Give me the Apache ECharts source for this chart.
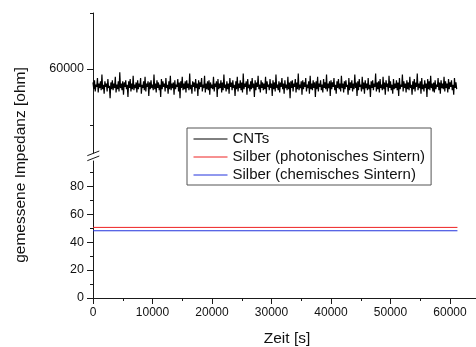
<!DOCTYPE html>
<html>
<head>
<meta charset="utf-8">
<script src="https://cdn.jsdelivr.net/npm/echarts@6/dist/echarts.min.js"></script>
<style>
html,body{margin:0;padding:0;background:#fff;}
#chart{width:476px;height:347px;}
</style>
</head>
<body>
<div id="chart"></div>
<script>
// ---- data ----
var seriesNames = ['CNTs', 'Silber (photonisches Sintern)', 'Silber (chemisches Sintern)'];
var cntStart = 0;
var cntStep = 125; // sampling interval in s
var cntValues = [
  58800,58200,59000,58000,58600,58400,59200,57900,58700,58300,58900,58100,59500,58200,
  58600,57800,58900,58400,58700,58000,59100,58300,58500,57400,58800,58200,59000,58100,
  58700,58300,59300,57900,58600,58200,58900,58000,59700,58300,58700,58100,58900,57700,
  58800,58400,59000,58200,58600,57500,58900,58300,59100,58000,58700,58200,59400,58100,
  58600,58300,58800,57900,59000,58200,58700,58400,59200,57800,58600,58300,58900,58100,
  59300,58000,58700,58400,58900,57600,58800,58200,59000,58300,58600,58100,59500,58200,
  58700,57900,59000,58300,58800,58100,58600,57500,59100,58200,58900,58400,58700,58000,
  59200,58300,58600,57800,58900,58200,59400,58100,58700,58300,58800,57700,59000,58200,
  58600,58400,59100,58000,58800,57400,58900,58300,59300,58100,58700,58200,58900,57900,
  59000,58300,58700,58100,59600,58200,58600,57800,58900,58400,58800,58000,59100,58300,
  58700,57600,59000,58200,58800,58400,59200,58000,58600,58300,59400,57900,58700,58200,
  58900,58100,59000,57700,58800,58300,58600,58200,59300,58000,58700,58400,58900,57500,
  59100,58200,58700,58300,59000,57900,58800,58100,59500,58300,58600,58000,58900,58200,
  58700,57800,59200,58400,58800,58100,59000,58300,58600,57600,58900,58200,59300,58000,
  58700,58300,59000,58100,58800,57900,59600,58200,58700,58400,58900,57700,59100,58300,
  58600,58000,58900,58200,59200,58300,58700,57500,59000,58100,58800,58400,59400,58200,
  58600,57900,59000,58300,58800,58100,58700,58200,59300,57800,58900,58400,58600,58100,
  59100,58300,58700,57600,59000,58200,58800,58000,59500,58300,58600,58100,58900,57900,
  58800,58400,59200,58200,58700,57800,59000,58300,58600,58100,59300,58200,58800,57400,
  58900,58300,59000,58000,58700,58400,59100,57900,58800,58200,59600,58100,58600,58300,
  58900,57700,59000,58200,58800,58400,59200,58000,58600,58300,58900,57800,59400,58200,
  58700,58100,59000,58300,58800,57500,58900,58200,59300,58000,58700,58400,59000,58100,
  58600,57900,59100,58300,58800,58200,59500,58000,58700,58300,58900,57600,59000,58200,
  58800,58400,59200,58100,58600,57800,58900,58300,59100,58200,58700,58000,59400,58300,
  58700,57900,58900,58200,59000,58400,58600,57700,59200,58100,58800,58300,59000,58000,
  58700,58200,59500,58300,58800,57600,58900,58100,59100,58400,58600,58000,59300,58200,
  58800,57800,59000,58300,58700,58100,59200,58200,58600,57500,58900,58300,59000,58100,
  58700,58400,59600,58000,58800,58200,58900,57900,59100,58300,58600,58100,59300,58200,
  58800,57700,59000,58400,58700,58000,59400,58300,58900,58100,58600,57800,59100,58200,
  58700,58300,59000,58100,58800,57600,59200,58200,58600,58400,59500,58000,58900,58300,
  58700,57900,59000,58200,58800,58100,59300,58300,58600,57700,58900,58200,59100,58000,
  58800,58400,59600,58100,58700,58300,58900,57800,59200,58200,58600,58000,59000,58300,
  58700,57500,59100,58200,58900,58100,59400,58300,58700,58000,58800,57900,59000,58200,
  58600,58400,59200,58100,58800,57800,59000,58300,58700,58200,59300,58000,58900,58300,
  58700,57900,59100,58200,58800,58400,59000,58100,58600,57700,59200,58300,58800,58200
];
var photoTime = [0, 61250];
var photoValues = [50.5, 50.5];
var chemTime = [0, 61250];
var chemValues = [48.1, 48.1];

var xTickValues = [0, 10000, 20000, 30000, 40000, 50000, 60000];
var yTopLabelValues = [60000];
var yTopMinorValues = [55000, 65000];
var yBottomLabelValues = [0, 20, 40, 60, 80];
var yBottomMinorValues = [10, 30, 50, 70, 90];

// ---- build ----
var cntData = cntValues.map(function (v, i) { return [cntStart + i * cntStep, v]; });
var photoData = photoTime.map(function (t, i) { return [t, photoValues[i]]; });
var chemData = chemTime.map(function (t, i) { return [t, chemValues[i]]; });

var AX = '#1a1a1a';
var FONT = '"Liberation Sans", Arial, sans-serif';
var plain = function (v) { return String(v); };

var chart = echarts.init(document.getElementById('chart'), null, {renderer: 'canvas'});
chart.setOption({
  animation: false,
  backgroundColor: '#fff',
  grid: [
    {left: 93, right: -33.5, top: 13, bottom: 194, containLabel: false, outerBoundsMode: 'none'},
    {left: 93, right: -33.5, top: 161, bottom: 49, containLabel: false, outerBoundsMode: 'none'}
  ],
  xAxis: [
    {gridIndex: 0, type: 'value', min: 0, max: 70000, show: false},
    {gridIndex: 1, type: 'value', min: 0, max: 70000, interval: 10000,
     axisLine: {show: true, lineStyle: {color: AX, width: 1}},
     axisTick: {show: true, length: 6, inside: false, lineStyle: {color: AX}},
     minorTick: {show: true, splitNumber: 2, length: 3, lineStyle: {color: AX}},
     splitLine: {show: false},
     axisLabel: {fontSize: 12, color: '#111', margin: 9, fontFamily: FONT,
       customValues: xTickValues, formatter: plain}
    }
  ],
  yAxis: [
    {gridIndex: 0, type: 'value', min: 52500, max: 65000, position: 'left',
     axisLine: {show: true, lineStyle: {color: AX}},
     axisTick: {show: true, length: 6, customValues: yTopLabelValues, lineStyle: {color: AX}},
     axisLabel: {fontSize: 12.5, color: '#111', margin: 9, fontFamily: FONT,
       customValues: yTopLabelValues, formatter: plain},
     splitLine: {show: false}
    },
    {gridIndex: 0, type: 'value', min: 52500, max: 65000, position: 'left',
     axisLine: {show: false},
     axisTick: {show: true, length: 3, customValues: yTopMinorValues, lineStyle: {color: AX}},
     axisLabel: {show: false},
     splitLine: {show: false}
    },
    {gridIndex: 1, type: 'value', min: 0, max: 98, position: 'left',
     axisLine: {show: true, lineStyle: {color: AX}},
     axisTick: {show: true, length: 6, customValues: yBottomLabelValues, lineStyle: {color: AX}},
     axisLabel: {fontSize: 12.5, color: '#111', margin: 9, fontFamily: FONT,
       customValues: yBottomLabelValues, formatter: plain},
     splitLine: {show: false}
    },
    {gridIndex: 1, type: 'value', min: 0, max: 98, position: 'left',
     axisLine: {show: false},
     axisTick: {show: true, length: 3, customValues: yBottomMinorValues, lineStyle: {color: AX}},
     axisLabel: {show: false},
     splitLine: {show: false}
    }
  ],
  legend: {
    orient: 'vertical', left: 187, top: 128,
    padding: [2, 6, 1, 6], itemGap: 0, itemWidth: 34, itemHeight: 18,
    borderColor: '#555', borderWidth: 1, backgroundColor: '#fff',
    itemStyle: {opacity: 0},
    lineStyle: {width: 1},
    textStyle: {fontSize: 15, color: '#111', fontFamily: FONT, lineHeight: 18},
    data: seriesNames
  },
  series: [
    {name: seriesNames[0], type: 'line', xAxisIndex: 0, yAxisIndex: 0, data: cntData,
     symbol: 'none', lineStyle: {color: '#000', width: 1.2}, itemStyle: {color: '#000'}, z: 3},
    {name: seriesNames[1], type: 'line', xAxisIndex: 1, yAxisIndex: 2, data: photoData,
     symbol: 'none', lineStyle: {color: '#ee2222', width: 1}, itemStyle: {color: '#ee2222'}},
    {name: seriesNames[2], type: 'line', xAxisIndex: 1, yAxisIndex: 2, data: chemData,
     symbol: 'none', lineStyle: {color: '#2233dd', width: 1}, itemStyle: {color: '#2233dd'}}
  ],
  graphic: [
    {type: 'line', shape: {x1: 87.3, y1: 155.7, x2: 99.3, y2: 151}, style: {stroke: AX, lineWidth: 1}},
    {type: 'line', shape: {x1: 87.3, y1: 160.7, x2: 99.3, y2: 156}, style: {stroke: AX, lineWidth: 1}},
    {type: 'text', x: 287, y: 339, style: {text: 'Zeit [s]', fontSize: 15.5, fill: '#111', fontFamily: FONT,
      textAlign: 'center', textVerticalAlign: 'middle'}},
    {type: 'text', x: 21, y: 165, rotation: Math.PI / 2, style: {text: 'gemessene Impedanz [ohm]', fontSize: 15.5,
      fill: '#111', fontFamily: FONT, textAlign: 'center', textVerticalAlign: 'middle'}}
  ]
});
</script>
</body>
</html>
